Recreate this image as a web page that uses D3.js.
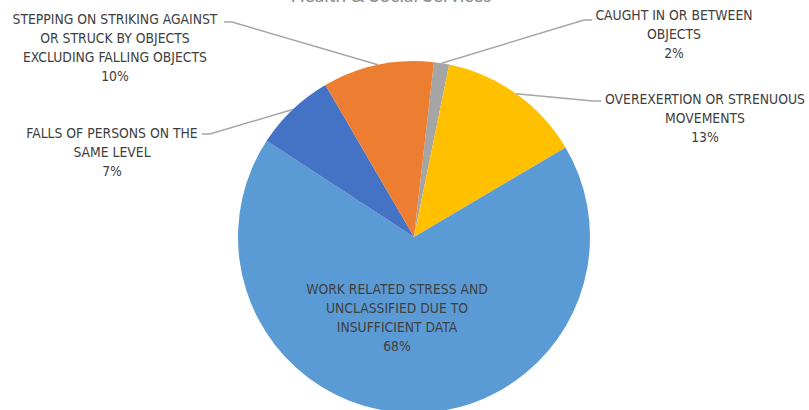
<!DOCTYPE html>
<html>
<head>
<meta charset="utf-8">
<script src="https://cdn.jsdelivr.net/npm/d3@7"></script>
<style>
body { margin: 0; background: #fff; }
svg { display: block; }
text { font-family: "DejaVu Sans Condensed", "Liberation Sans Narrow", sans-serif; fill: #404040; }
</style>
</head>
<body>
<script>
// chart data (percent of cases), in drawing order clockwise
var categories = [
  "CAUGHT IN OR BETWEEN OBJECTS",
  "OVEREXERTION OR STRENUOUS MOVEMENTS",
  "WORK RELATED STRESS AND UNCLASSIFIED DUE TO INSUFFICIENT DATA",
  "FALLS OF PERSONS ON THE SAME LEVEL",
  "STEPPING ON STRIKING AGAINST OR STRUCK BY OBJECTS EXCLUDING FALLING OBJECTS"
];
var values = [1.4, 13.3, 67.7, 7.4, 10.2];
var pctLabels = ["2%", "13%", "68%", "7%", "10%"];
// how each label is broken into lines
var labelLines = [
  ["CAUGHT IN OR BETWEEN", "OBJECTS"],
  ["OVEREXERTION OR STRENUOUS", "MOVEMENTS"],
  ["WORK RELATED STRESS AND", "UNCLASSIFIED DUE TO", "INSUFFICIENT DATA"],
  ["FALLS OF PERSONS ON THE", "SAME LEVEL"],
  ["STEPPING ON STRIKING AGAINST", "OR STRUCK BY OBJECTS", "EXCLUDING FALLING OBJECTS"]
];
var colors = ["#A5A5A5", "#FFC000", "#5B9BD5", "#4472C4", "#ED7D31"];
var title = "Health & Social Services";

var width = 809, height = 410;
var cx = 414, cy = 237, radius = 176;
var lineH = 19;

// label layout: centre x, first line y, and where the leader line meets the label
var labelPos = [
  {x: 674, y: 15, side: "left", lx: 592, ly: 20},
  {x: 705, y: 99, side: "left", lx: 601, ly: 101},
  {x: 397, y: 289, inside: true},
  {x: 112, y: 133, side: "right", lx: 202, ly: 134},
  {x: 115, y: 19, side: "right", lx: 224, ly: 22}
];

var svg = d3.select("body").append("svg")
  .attr("width", width)
  .attr("height", height);

// title sits mostly above the visible area, as in the source picture
svg.append("text")
  .attr("x", 391)
  .attr("y", 1.5)
  .attr("text-anchor", "middle")
  .style("font-family", "Lato, 'Open Sans', sans-serif")
  .style("font-size", "19px")
  .style("fill", "#8c8c8c")
  .text(title);

var startOff = 6.5 * Math.PI / 180;
var pie = d3.pie().sort(null)
  .startAngle(startOff)
  .endAngle(startOff + 2 * Math.PI);
var arcs = pie(values);

var arc = d3.arc().innerRadius(0).outerRadius(radius);

var g = svg.append("g").attr("transform", "translate(" + cx + "," + cy + ")");

var leaders = svg.append("g");

g.selectAll("path.slice")
  .data(arcs)
  .enter().append("path")
  .attr("class", "slice")
  .attr("d", arc)
  .attr("fill", function(d, i) { return colors[i]; });

// leader lines from the slice middle on the rim to the label
arcs.forEach(function(d, i) {
  var p = labelPos[i];
  if (p.inside) return;
  var mid = (d.startAngle + d.endAngle) / 2;
  var sx = cx + radius * Math.sin(mid);
  var sy = cy - radius * Math.cos(mid);
  var hx = p.side === "left" ? p.lx - 8 : p.lx + 8;
  leaders.append("polyline")
    .attr("points", [[sx, sy], [hx, p.ly], [p.lx, p.ly]].map(function(q) { return q.join(","); }).join(" "))
    .attr("fill", "none")
    .attr("stroke", "#A6A6A6")
    .attr("stroke-width", 1.5);
});

// labels
labelPos.forEach(function(p, i) {
  var lines = labelLines[i].concat([pctLabels[i]]);
  var t = svg.append("text")
    .attr("text-anchor", "middle")
    .style("font-size", "13.8px");
  lines.forEach(function(s, k) {
    t.append("tspan")
      .attr("x", p.x)
      .attr("y", p.y + k * lineH)
      .attr("dy", "0.35em")
      .text(s);
  });
});
</script>
</body>
</html>
